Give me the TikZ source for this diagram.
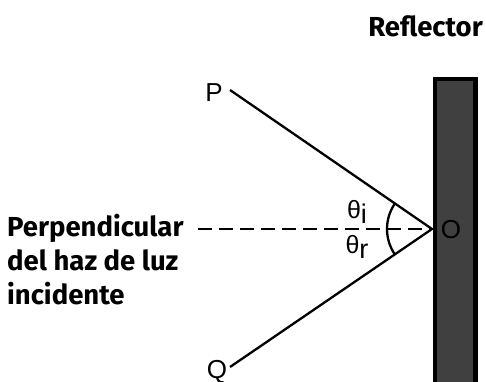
\documentclass[tikz,border=0pt]{standalone}
\usepackage{fontspec}
\setmainfont{Liberation Sans}
\newfontfamily\firab{Fira Sans}[UprightFont=* Bold]
\definecolor{reflgray}{RGB}{64,64,64}
\begin{document}
\begin{tikzpicture}[x=1pt,y=-1pt,
  ray/.style={line width=2.3pt},
  axis/.style={line width=2.3pt,dash pattern=on 14pt off 7pt},
  boldlbl/.style={font=\firab\fontsize{27.5}{34}\selectfont,inner sep=0pt},
  ptlbl/.style={font=\fontsize{26}{26}\selectfont,inner sep=0pt},
  anglbl/.style={font=\fontsize{25}{25}\selectfont,inner sep=0pt}]
\useasboundingbox (0,0) rectangle (486,381);
% reflector
\draw[line width=4.5pt,fill=reflgray] (455.5,392) -- (435.2,392) -- (435.2,79.2) -- (475.7,79.2) -- (475.7,392);
\node[boldlbl,anchor=base east] (refl) at (483,36) {Reflector};
% points
\coordinate (O) at (432,229);
\coordinate (Pe) at (230,90);
\coordinate (Qe) at (230,367);
\coordinate (De) at (198,229);
\node[ptlbl] (P) at (214,93) {P};
\node[ptlbl] (Q) at (217,372) {Q};
\node[ptlbl] (Olbl) at (451,229.5) {O};
\draw[ray] (Pe) -- (O) -- (Qe);
\draw[axis] (De) -- (O);
\draw[ray] ([shift={(145.5:45)}]O) arc[start angle=145.5,end angle=214.5,radius=45];
\node[anglbl] (ti) at (357,212) {θ\raisebox{-5pt}{\fontsize{27}{27}\selectfont i}};
\node[anglbl] (tr) at (357,247) {θ\raisebox{-5pt}{\fontsize{27}{27}\selectfont r}};
\node[boldlbl,anchor=base west,align=left] (perp) at (7,304) {Perpendicular\\del haz de luz\\incidente};
\end{tikzpicture}
\end{document}
